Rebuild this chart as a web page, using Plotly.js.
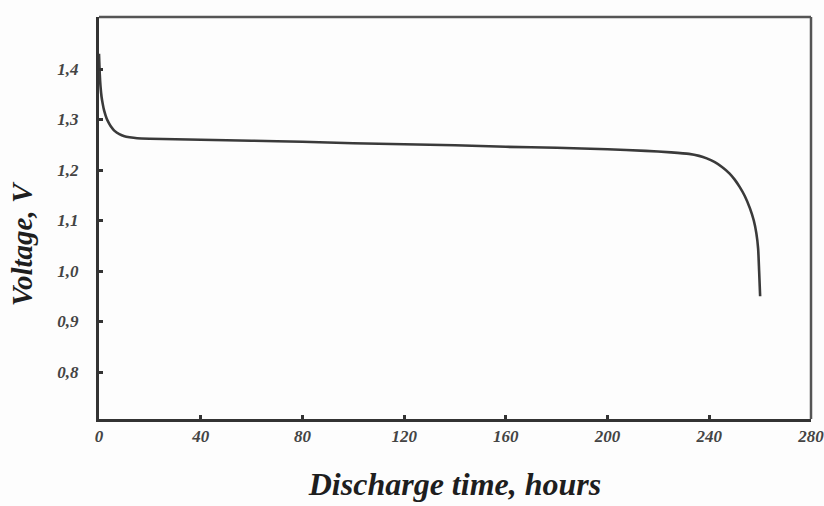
<!DOCTYPE html>
<html>
<head>
<meta charset="utf-8">
<script src="https://cdn.plot.ly/plotly-3.0.1.min.js"></script>
<style>html,body{margin:0;padding:0;background:#fdfdfd;}#chart{width:824px;height:506px;}</style>
</head>
<body>
<div id="chart"></div>
<script>
// Discharge time (hours)
const timeHours = [0, 0.3, 0.6, 1, 1.5, 2, 3, 4, 5, 6, 8, 10, 12, 15, 20, 30, 40, 60, 80, 100, 120, 140, 160, 180, 200, 215, 225, 232, 236, 239, 242, 245, 248, 250, 252, 254, 256, 257.5, 258.5, 259.2, 259.6, 260];
// Voltage (V)
const voltage = [1.43, 1.39, 1.365, 1.345, 1.33, 1.318, 1.302, 1.292, 1.284, 1.278, 1.271, 1.267, 1.265, 1.263, 1.262, 1.261, 1.260, 1.258, 1.256, 1.253, 1.251, 1.249, 1.246, 1.244, 1.241, 1.238, 1.235, 1.232, 1.228, 1.223, 1.216, 1.206, 1.193, 1.181, 1.166, 1.148, 1.124, 1.100, 1.075, 1.045, 1.0, 0.95];
const xTickVals = [0, 40, 80, 120, 160, 200, 240, 280];
const xTickText = ["0", "40", "80", "120", "160", "200", "240", "280"];
const yTickVals = [0.8, 0.9, 1.0, 1.1, 1.2, 1.3, 1.4];
const yTickText = ["0,8", "0,9", "1,0", "1,1", "1,2", "1,3", "1,4"];
const xTitle = "Discharge time, hours";
const yTitle = "Voltage, V";

const tickFont = {family: "Liberation Serif, DejaVu Serif, serif", size: 17, color: "#444", style: "italic", weight: "bold"};
const titleFont = {family: "Liberation Serif, DejaVu Serif, serif", size: 32, color: "#1e1e1e", style: "italic", weight: "bold"};
const yTitleFont = {family: "Liberation Serif, DejaVu Serif, serif", size: 29, color: "#1e1e1e", style: "italic", weight: "bold"};

Plotly.newPlot("chart", [{
  x: timeHours, y: voltage, type: "scatter", mode: "lines",
  line: {color: "#3a3a3a", width: 2.6, shape: "spline", smoothing: 0.6},
  hoverinfo: "skip", showlegend: false
}], {
  width: 824, height: 506,
  margin: {l: 99, r: 13, t: 17, b: 87},
  paper_bgcolor: "#fdfdfd", plot_bgcolor: "#fdfdfd",
  xaxis: {
    range: [0, 280], tickvals: xTickVals, ticktext: xTickText,
    showline: true, linecolor: "#333", linewidth: 3, showgrid: false, zeroline: false,
    ticks: "inside", ticklen: 4, tickwidth: 3, tickcolor: "#333",
    tickfont: tickFont, ticklabelstandoff: 0, ticklabeloverflow: "allow",
    title: {text: xTitle, font: titleFont, standoff: 28}
  },
  yaxis: {
    range: [0.707, 1.503], tickvals: yTickVals, ticktext: yTickText,
    showline: true, linecolor: "#333", linewidth: 3, showgrid: false, zeroline: false,
    ticks: "inside", ticklen: 4, tickwidth: 3, tickcolor: "#333",
    tickfont: tickFont, ticklabelstandoff: 14
  },
  annotations: [{
    text: yTitle, font: yTitleFont, textangle: -90, showarrow: false,
    xref: "paper", yref: "paper", x: -0.108, y: 0.435, xanchor: "center", yanchor: "middle"
  }],
  shapes: [
    {type: "line", xref: "paper", yref: "paper", x0: 0, x1: 1, y0: 1, y1: 1, line: {color: "#555", width: 2.5}},
    {type: "line", xref: "paper", yref: "paper", x0: 1, x1: 1, y0: 0, y1: 1, line: {color: "#555", width: 2.5}}
  ]
}, {displayModeBar: false, staticPlot: true});
</script>
</body>
</html>
